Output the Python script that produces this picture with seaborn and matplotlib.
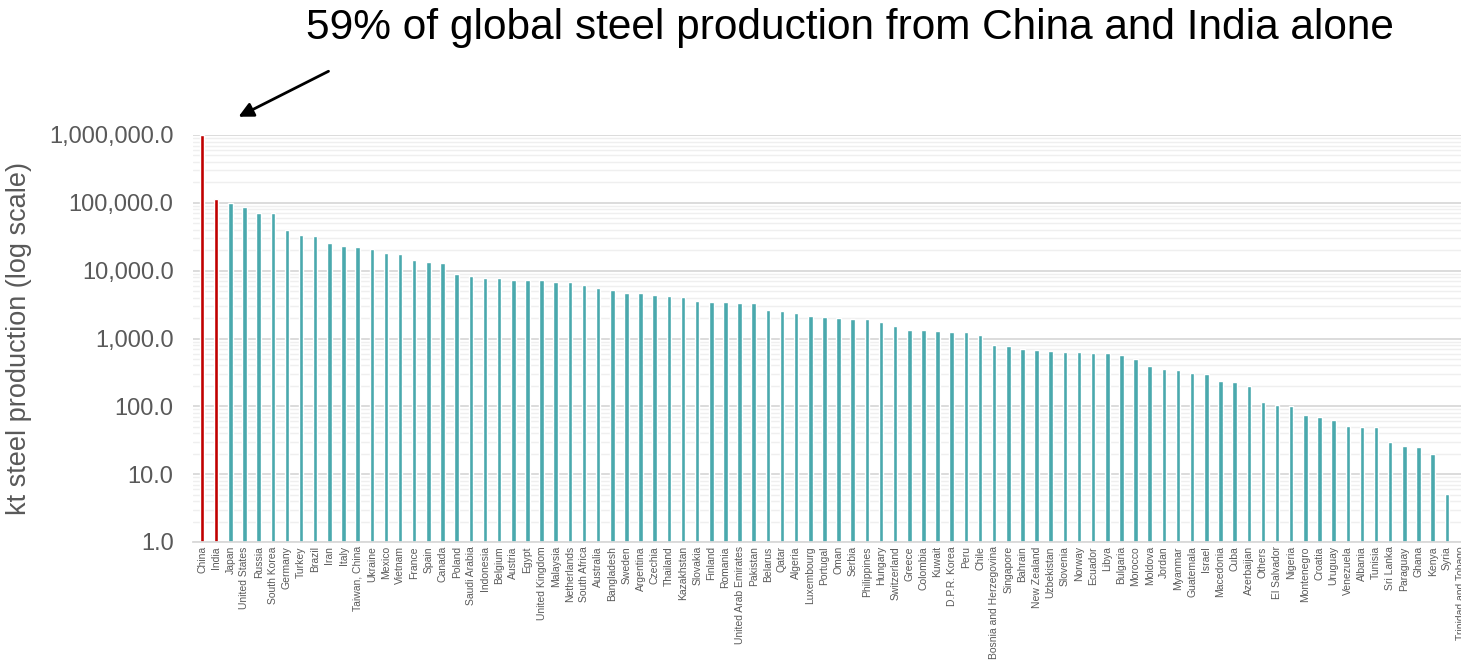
import matplotlib
matplotlib.use("Agg")
import matplotlib.pyplot as plt
import matplotlib.ticker as mticker
import seaborn as sns
import pandas as pd

countries = [
    "China", "India", "Japan", "United States", "Russia", "South Korea", "Germany",
    "Turkey", "Brazil", "Iran", "Italy", "Taiwan, China", "Ukraine", "Mexico",
    "Vietnam", "France", "Spain", "Canada", "Poland", "Saudi Arabia", "Indonesia",
    "Belgium", "Austria", "Egypt", "United Kingdom", "Malaysia", "Netherlands",
    "South Africa", "Australia", "Bangladesh", "Sweden", "Argentina", "Czechia",
    "Thailand", "Kazakhstan", "Slovakia", "Finland", "Romania",
    "United Arab Emirates", "Pakistan", "Belarus", "Qatar", "Algeria",
    "Luxembourg", "Portugal", "Oman", "Serbia", "Philippines", "Hungary",
    "Switzerland", "Greece", "Colombia", "Kuwait", "D.P.R. Korea", "Peru", "Chile",
    "Bosnia and Herzegovina", "Singapore", "Bahrain", "New Zealand", "Uzbekistan",
    "Slovenia", "Norway", "Ecuador", "Libya", "Bulgaria", "Morocco", "Moldova",
    "Jordan", "Myanmar", "Guatemala", "Israel", "Macedonia", "Cuba", "Azerbaijan",
    "Others", "El Salvador", "Nigeria", "Montenegro", "Croatia", "Uruguay",
    "Venezuela", "Albania", "Tunisia", "Sri Lanka", "Paraguay", "Ghana", "Kenya",
    "Syria", "Trinidad and Tobago",
]

production_kt = [
    996300, 112000, 99300, 87800, 71600, 71400, 39700,
    33700, 32600, 25600, 23200, 22100, 20900, 18500,
    17500, 14500, 13600, 12900, 9000, 8250, 7800,
    7800, 7400, 7300, 7250, 6800, 6700,
    6200, 5500, 5150, 4700, 4650, 4450,
    4250, 4100, 3600, 3480, 3470,
    3350, 3300, 2640, 2550, 2400,
    2130, 2060, 2010, 1950, 1930, 1780,
    1520, 1350, 1340, 1280, 1250, 1240, 1140,
    805, 770, 700, 670, 665,
    628, 625, 614, 610, 573, 506, 394,
    350, 340, 308, 300, 240, 231, 200,
    115, 104, 101, 75, 70, 63,
    51, 50, 50, 30, 26, 25, 20,
    5.1, 1.0,
]

highlight = ["China", "India"]

df = pd.DataFrame({"country": countries, "kt": production_kt})
df["group"] = ["hl" if c in highlight else "other" for c in countries]

sns.set_theme(style="white")
plt.rcParams["font.family"] = ["Liberation Sans", "DejaVu Sans"]

W, H = 1461, 666
fig = plt.figure(figsize=(W / 100, H / 100), dpi=100)
ax = fig.add_axes([193 / W, (H - 542) / H, (1470 - 193) / W, (542 - 135) / H])

sns.barplot(data=df, x="country", y="kt", hue="group",
            palette={"hl": "#c00000", "other": "#4aa9ad"},
            width=0.32, dodge=False, legend=False, ax=ax, saturation=1)

ax.set_yscale("log")
ax.set_ylim(1, 1e6)
ax.set_xlim(-0.64, len(countries) - 1 + 0.64)

ax.yaxis.set_major_locator(mticker.LogLocator(base=10, numticks=10))
ax.yaxis.set_minor_locator(mticker.LogLocator(base=10, subs=range(2, 10), numticks=100))
ax.yaxis.set_major_formatter(mticker.FuncFormatter(lambda v, p: f"{v:,.1f}"))
ax.yaxis.set_minor_formatter(mticker.NullFormatter())

ax.grid(True, which="major", axis="y", color="#d9d9d9", linewidth=1.3)
ax.grid(True, which="minor", axis="y", color="#efefef", linewidth=1.0)
ax.set_axisbelow(True)

for s in ["top", "right", "left"]:
    ax.spines[s].set_visible(False)
ax.spines["bottom"].set_color("#d9d9d9")
ax.spines["bottom"].set_linewidth(1.3)

ax.tick_params(axis="y", which="both", length=0, pad=14, labelsize=17, labelcolor="#595959")
ax.tick_params(axis="x", length=0, pad=3, labelsize=7.5, labelcolor="#595959")
plt.setp(ax.get_xticklabels(), rotation=90)

ax.set_xlabel("")
ax.set_ylabel("kt steel production (log scale)", fontsize=19.5, color="#595959", labelpad=12)

fig.text(850 / W, 1 - 28 / H, "59% of global steel production from China and India alone",
         fontsize=30.5, color="black", ha="center", va="center")

ax.annotate("", xy=(236 / W, 1 - 118 / H), xycoords="figure fraction",
            xytext=(331 / W, 1 - 70 / H), textcoords="figure fraction",
            arrowprops=dict(arrowstyle="-|>", color="black", lw=2, mutation_scale=22))

fig.savefig("out.png", dpi=100)
